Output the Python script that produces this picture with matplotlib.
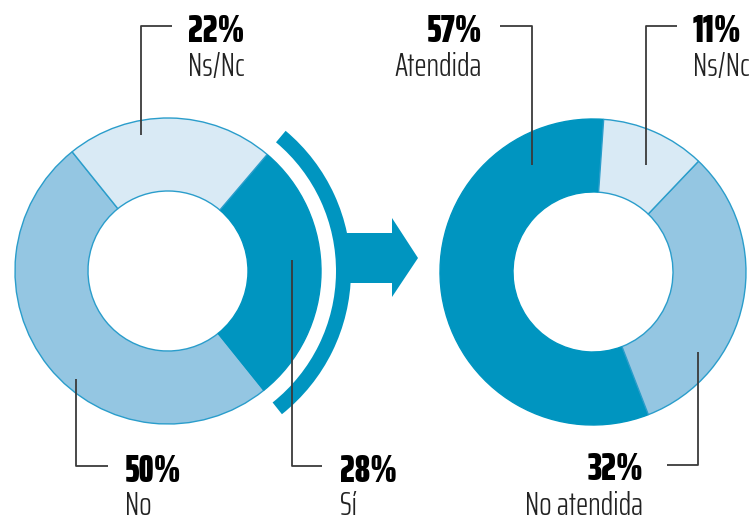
import matplotlib
matplotlib.use("Agg")
import matplotlib.pyplot as plt
from matplotlib.patches import Wedge, Polygon

# Datos
izq_etiquetas = ["No", "Sí", "Ns/Nc"]
izq_valores = [50, 28, 22]
der_etiquetas = ["Atendida", "No atendida", "Ns/Nc"]
der_valores = [57, 32, 11]

oscuro = "#0095C0"
medio = "#94C6E2"
claro = "#D9EAF5"
borde = "#2A9DCB"
linea = "#3a3a3a"

H = 520  # alto en pixeles, para pasar de coordenadas de imagen a ejes

fig = plt.figure(figsize=(7.51, 5.2), dpi=100)
ax = fig.add_axes([0, 0, 1, 1])

# Dona izquierda
cx1, cy1 = 168, H - 271
w1, _ = ax.pie(izq_valores, colors=[medio, oscuro, claro], startangle=128.8,
               counterclock=True, center=(cx1, cy1), radius=153,
               wedgeprops=dict(width=73, edgecolor=borde, linewidth=1))
w1[1].set_edgecolor(oscuro)

# Dona derecha
cx2, cy2 = 593, H - 272
w2, _ = ax.pie(der_valores, colors=[oscuro, medio, claro], startangle=86,
               counterclock=True, center=(cx2, cy2), radius=153,
               wedgeprops=dict(width=73, edgecolor=borde, linewidth=1))
w2[0].set_edgecolor(oscuro)

# Arco y flecha
ax.add_patch(Wedge((cx1, cy1), 183, -51.5, 50, width=15, color=oscuro, lw=0))
ax.add_patch(Polygon([(345, H - 233), (392, H - 233), (392, H - 218), (418, H - 258),
                      (392, H - 297), (392, H - 283), (345, H - 283)],
                     closed=True, color=oscuro, lw=0))

# Lineas guia
guias = [
    [(141, 135), (141, 26), (172, 26)],
    [(76, 379), (76, 466), (108, 466)],
    [(292, 260), (292, 466), (322, 466)],
    [(500, 26), (532, 26), (532, 165)],
    [(677, 26), (646, 26), (646, 165)],
    [(698, 352), (698, 465), (667, 465)],
]
for g in guias:
    xs, ys = zip(*g)
    ax.plot(xs, [H - y for y in ys], color=linea, lw=1.3, solid_capstyle="butt")

# Textos
f_num = dict(family="Saira ExtraCondensed", weight=900, fontsize=27.5, color="black")
f_lab = dict(family="Saira ExtraCondensed", weight=300, fontsize=23.5, color="#222222")

textos = [
    (188, 42, 76, "left", izq_valores[2], izq_etiquetas[2]),
    (125, 482, 515, "left", izq_valores[0], izq_etiquetas[0]),
    (340, 482, 515, "left", izq_valores[1], izq_etiquetas[1]),
    (482, 42, 76, "right", der_valores[0], der_etiquetas[0]),
    (693, 42, 76, "left", der_valores[2], der_etiquetas[2]),
    (643, 480, 515, "right", der_valores[1], der_etiquetas[1]),
]
for x, yn, yl, ha, v, lab in textos:
    ax.text(x, H - yn, f"{v}%", ha=ha, va="baseline", **f_num)
    ax.text(x, H - yl, lab, ha=ha, va="baseline", **f_lab)

ax.set_xlim(0, 751)
ax.set_ylim(0, H)
ax.set_aspect("auto")
ax.axis("off")

fig.savefig("out.png")
